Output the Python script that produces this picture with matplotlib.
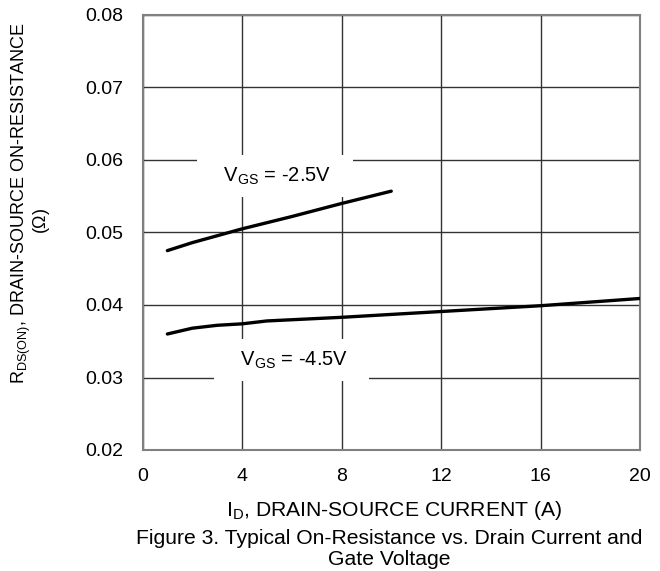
import numpy as np
import matplotlib
matplotlib.use("Agg")
import matplotlib.pyplot as plt

plt.rcParams['font.family'] = ['Liberation Sans', 'DejaVu Sans']
plt.rcParams['mathtext.fontset'] = 'custom'
plt.rcParams['mathtext.rm'] = 'Liberation Sans'
plt.rcParams['mathtext.it'] = 'Liberation Sans'

# datos
id_25 = [1, 2, 4, 6, 8, 10]
rds_25 = [0.0475, 0.0486, 0.0505, 0.0522, 0.0540, 0.0557]

id_45 = [1, 2, 3, 4, 5, 8, 12, 16, 20]
rds_45 = [0.0360, 0.0368, 0.0372, 0.0374, 0.0378, 0.0383, 0.0391, 0.0399, 0.0409]

xticks = [0, 4, 8, 12, 16, 20]
yticks = [0.02, 0.03, 0.04, 0.05, 0.06, 0.07, 0.08]

FS = 14      # ticks y etiquetas de curvas
FS_X = 15.2  # eje x y pie de figura
FS_Y = 13    # eje y

fig = plt.figure(figsize=(6.6, 5.71), dpi=100)
ax = fig.add_axes([142.5 / 660, 1 - 450 / 571, 497.5 / 660, 435 / 571])

ax.plot(id_25, rds_25, color='black', linewidth=2.4, solid_capstyle='round', zorder=4)
ax.plot(id_45, rds_45, color='black', linewidth=2.4, solid_capstyle='round', zorder=4)

ax.set_xlim(0, 20)
ax.set_ylim(0.02, 0.08)
ax.set_xticks(xticks)
ax.set_yticks(yticks)
ax.set_xticklabels([str(t) for t in xticks], fontsize=FS)
ax.set_yticklabels(['%.2f' % t for t in yticks], fontsize=FS)
ax.tick_params(axis='y', length=0, pad=14)
ax.tick_params(axis='x', length=0, pad=13)
ax.grid(True, color='#333333', linewidth=1.0)
ax.set_axisbelow(True)
for s in ax.spines.values():
    s.set_color('#808080')
    s.set_linewidth(1.5)

# etiquetas con caja blanca que tapa la rejilla
box = dict(facecolor='white', edgecolor='none', boxstyle='square,pad=0.5')
ax.text(5.33, 0.0578, '   ' + r'$\mathregular{V_{GS}}$ = -2.5V' + '   ', fontsize=14.5,
        ha='center', va='center', bbox=box, zorder=3)
ax.text(5.99, 0.0324, '   ' + r'$\mathregular{V_{GS}}$ = -4.5V' + '   ', fontsize=14.5,
        ha='center', va='center', bbox=box, zorder=3)

fig.text(394 / 660, 1 - 510 / 571, r'$\mathregular{I_D}$, DRAIN-SOURCE CURRENT (A)',
         fontsize=FS_X, ha='center', va='center')

fig.text(21 / 660, 1 - 203 / 571, r'$\mathregular{R_{DS(ON)}}$, DRAIN-SOURCE ON-RESISTANCE',
         fontsize=FS_Y, rotation=90, ha='center', va='center')
fig.text(42 / 660, 1 - 221 / 571, r'($\Omega$)',
         fontsize=FS_Y, rotation=90, ha='center', va='center')

fig.text(389 / 660, 1 - 549 / 571, 'Figure 3. Typical On-Resistance vs. Drain Current and\nGate Voltage',
         ha='center', va='center', fontsize=FS_X, linespacing=1.15)

fig.savefig('out.png', dpi=100)
